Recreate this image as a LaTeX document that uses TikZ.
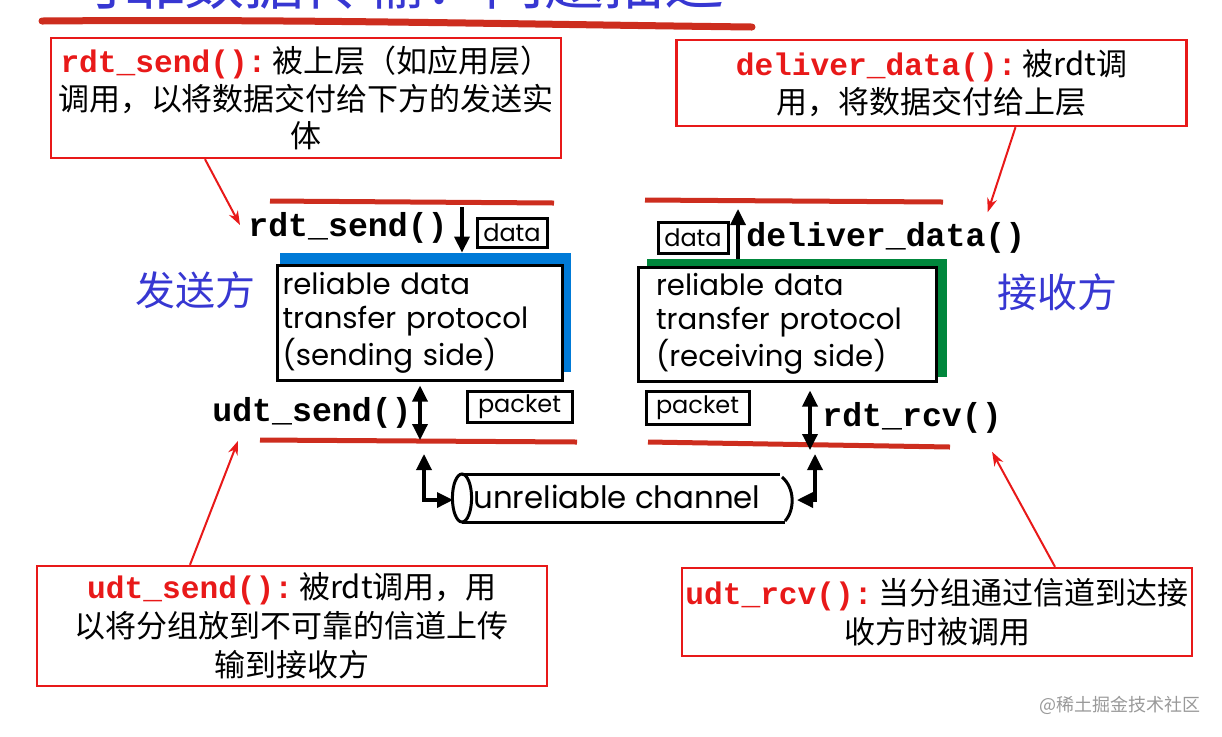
\documentclass[tikz,border=0pt]{standalone}
\usepackage{fontspec}
\setmainfont{Liberation Sans}
\newfontfamily\cjk{Noto Sans CJK SC}
\newfontfamily\code{Liberation Mono}
\newfontfamily\geo{Poppins}
\usetikzlibrary{arrows.meta}

\definecolor{layerred}{RGB}{205,45,30}
\definecolor{notered}{RGB}{232,25,25}
\definecolor{sideblue}{RGB}{55,55,210}
\definecolor{shadeblue}{RGB}{0,122,215}
\definecolor{shadegreen}{RGB}{0,135,60}
\newcommand{\callname}[1]{\textcolor{notered}{\code\bfseries\fontsize{15.6}{18}\selectfont #1}\hspace{3pt}}

\begin{document}
\begin{tikzpicture}[x=0.5pt,y=-0.5pt,
  note/.style={draw=notered,line width=1.2pt,align=center,inner sep=0pt,
    font=\cjk\fontsize{15.5}{18.7}\selectfont,minimum width=255pt},
  fn/.style={font=\code\bfseries\fontsize{16.6}{18}\selectfont,inner sep=1pt},
  shade/.style={inner sep=0pt,minimum width=#1},
  proto/.style={draw,line width=1.5pt,fill=white,align=left,inner ysep=0pt,
    font=\geo\fontsize{14.6}{17}\selectfont},
  tag/.style={draw,line width=1.5pt,inner sep=0pt,font=\geo\fontsize{12}{13}\selectfont},
  side/.style={text=sideblue,font=\cjk\fontsize{20}{22}\selectfont},
  layer/.style={layerred,line width=2.5pt},
  pointer/.style={notered,line width=1pt,-{Stealth[length=7pt,width=5pt]}},
  pipe/.style={line width=1.7pt,-{Triangle[length=8pt,width=7.5pt]}},
  both/.style={line width=1.7pt,{Triangle[length=8pt,width=7.5pt]}-{Triangle[length=8pt,width=7.5pt]}},
]
\useasboundingbox (0,0) rectangle (1222,736);
\clip (0,0) rectangle (1222,736);

% title, cut off at the top of the page
\node (title) [anchor=base,text=sideblue,font=\cjk\fontsize{30}{32}\selectfont] at (395,4) {可靠数据传输：问题描述};
\draw[layerred,line width=3.5pt,line cap=round] (42,21) .. controls (300,19) and (500,24) .. (752,27);

% the four notes
\node (note1) [note,minimum height=60pt] at (306,98)
  {\callname{rdt\_send():}被上层（如应用层）\\调用，以将数据交付给下方的发送实\\体};
\node (note2) [note,minimum height=43pt] at (931.5,83)
  {\callname{deliver\_data():}被rdt调\\用，将数据交付给上层};
\node (note3) [note,minimum height=60pt,font=\cjk\fontsize{15.5}{19.5}\selectfont] at (292,626)
  {\callname{udt\_send():}被rdt调用，用\\以将分组放到不可靠的信道上传\\输到接收方};
\node (note4) [note,minimum height=44pt,font=\cjk\fontsize{15.5}{19.5}\selectfont] at (937,612)
  {\callname{udt\_rcv():}当分组通过信道到达接\\收方时被调用};

% sending side
\draw[layer] (270,201) -- (554,203);
\draw[layer] (260,440) -- (577,442);
\node (sndshade) [shade=145.5pt,minimum height=59.5pt,fill=shadeblue] at (425.5,312.5) {};
\node (sndbox) [proto,minimum width=142.5pt,minimum height=57.5pt,text width=137pt,inner xsep=2.5pt] at (419.5,322.5)
  {reliable data\\transfer protocol\\(sending side)};
\node (rdtsend) [fn,anchor=west] at (246,228) {rdt\_send()};
\node (udtsend) [fn,anchor=west] at (210,413) {udt\_send()};
\node (data1) [tag,minimum width=35pt,minimum height=14.5pt] at (512,232.5) {data};
\node (pkt1) [tag,minimum width=52.5pt,minimum height=15.5pt] at (519.5,406.5) {packet};
\node (sender) [side] at (195,290) {发送方};
\coordinate (sndin) at (462,207);
\coordinate (sndlow) at (420,440);
\draw[pipe] (sndin) -- (sndin |- sndshade.north);
\draw[both,shorten <=2pt] (sndbox.south -| sndlow) -- (sndlow);

% receiving side
\draw[layer] (645,200) -- (943,202);
\draw[layer] (648,442) -- (950,447);
\node (rcvshade) [shade=150pt,minimum height=59pt,fill=shadegreen] at (797,318) {};
\node (rcvbox) [proto,minimum width=149pt,minimum height=57pt,text width=131pt,inner xsep=9pt] at (787,324)
  {reliable data\\transfer protocol\\(receiving side)};
\node (deliver) [fn,anchor=west] at (744,238) {deliver\_data()};
\node (rdtrcv) [fn,anchor=west] at (820,418) {rdt\_rcv()};
\node (data2) [tag,minimum width=35pt,minimum height=15.5pt] at (693,237.5) {data};
\node (pkt2) [tag,minimum width=51.5pt,minimum height=16.5pt] at (697.5,407.5) {packet};
\node (receiver) [side] at (1057,292) {接收方};
\coordinate (rcvout) at (738,209);
\coordinate (rcvlow) at (810,450);
\draw[pipe] (rcvout |- rcvshade.north) -- (rcvout);
\draw[both,shorten <=4pt] (rcvbox.south -| rcvlow) -- (rcvlow);

% unreliable channel
\draw[line width=1.5pt] (462,498) ellipse [x radius=4.8pt,y radius=12pt];
\draw[line width=1.5pt] (462,474) -- (780,474) (462,522) -- (785,522);
\draw[line width=1.5pt] (782,477) .. controls (795,488) and (795,510) .. (785,521);
\node (chan) [font=\geo\fontsize{15.4}{17}\selectfont] at (617,497) {unreliable channel};
\coordinate (chanl) at (453,500);
\coordinate (chanr) at (797,500);
\coordinate (chanlup) at (424,454);
\coordinate (chanrup) at (815,454);
\draw[both] (chanlup) |- (chanl);
\draw[both] (chanrup) |- (chanr);

% pointers from the notes
\draw[pointer] ([xshift=-50.5pt]note1.south) -- ([xshift=-3pt,yshift=1.5pt]rdtsend.west);
\draw[pointer] ([xshift=42pt]note2.south) -- ([xshift=-20pt,yshift=4pt]deliver.north east);
\draw[pointer] ([xshift=-51pt]note3.north) -- ([xshift=14pt,yshift=-5pt]udtsend.south west);
\draw[pointer] ([xshift=59pt]note4.north) -- ([xshift=-6pt,yshift=-8pt]rdtrcv.south east);

% watermark
\node (mark) [text=black!40,font=\cjk\fontsize{9}{10}\selectfont] at (1120,705) {@稀土掘金技术社区};
\end{tikzpicture}
\end{document}
